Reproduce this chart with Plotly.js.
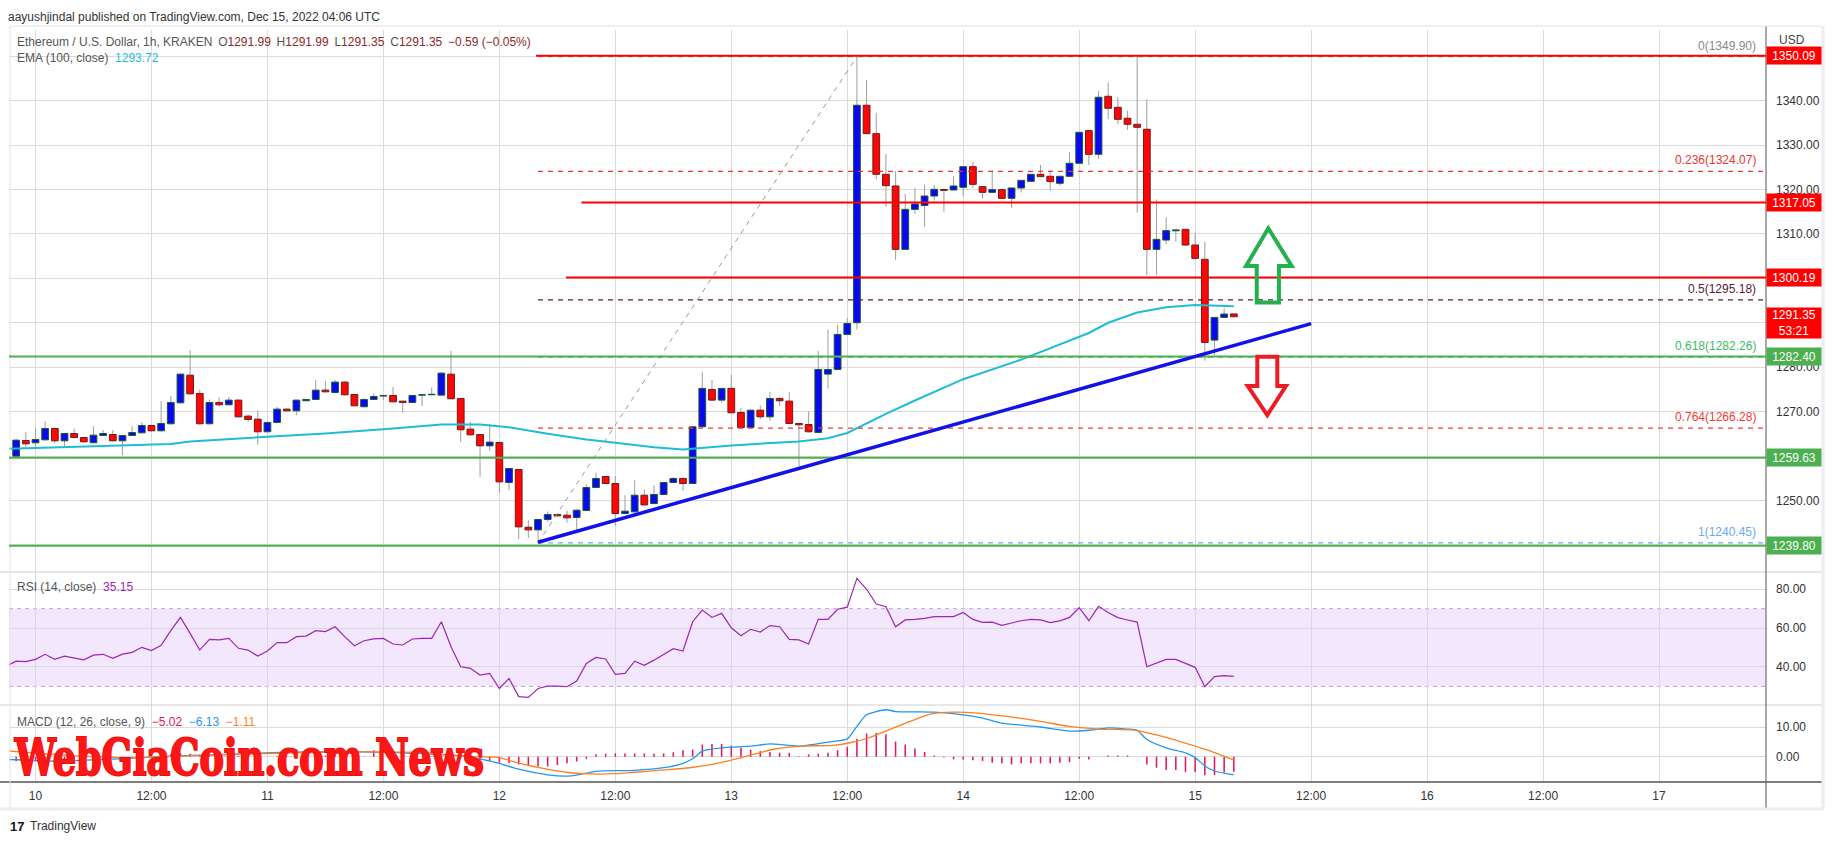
<!DOCTYPE html>
<html><head><meta charset="utf-8">
<script src="https://cdn.plot.ly/plotly-3.0.1.min.js"></script>
<style>html,body{margin:0;padding:0;background:#fff;}#chart{width:1834px;height:845px;}</style>
</head><body><div id="chart"></div>
<script>
// ---------------- DATA (ETH/USD 1h, KRAKEN) ----------------
// hour offsets are counted from Dec 10 00:00 UTC; first candle is Dec 9 22:00
const FIRST_HOUR = -2;
const OPEN = [1259.97,1263.50,1262.98,1263.65,1266.20,1263.43,1265.08,1264.18,1263.00,1264.63,1264.85,1263.43,1264.63,1265.23,1266.88,1265.68,1267.26,1271.98,1278.20,1274.09,1267.26,1272.06,1271.54,1272.59,1268.98,1268.30,1265.46,1267.56,1270.56,1270.18,1272.44,1272.74,1274.84,1274.31,1276.64,1273.86,1271.09,1272.74,1273.50,1273.64,1272.36,1272.06,1273.70,1273.79,1273.71,1278.44,1272.96,1266.06,1264.85,1262.30,1263.05,1254.04,1256.97,1243.98,1243.38,1245.71,1246.84,1246.69,1246.16,1247.74,1252.92,1255.40,1253.82,1247.06,1247.44,1251.19,1249.30,1251.34,1254.04,1254.95,1253.82,1266.58,1274.99,1272.59,1275.22,1269.81,1266.43,1270.33,1268.83,1272.96,1272.36,1267.33,1267.10,1265.31,1278.44,1279.49,1287.38,1290.00,1338.96,1332.57,1323.42,1320.79,1306.52,1315.53,1316.40,1318.53,1320.00,1319.89,1320.49,1325.14,1320.64,1319.36,1319.96,1318.01,1320.34,1321.84,1323.42,1322.97,1321.39,1322.97,1325.90,1333.25,1327.92,1340.98,1338.50,1336.03,1334.68,1333.55,1306.52,1308.62,1310.70,1311.03,1307.50,1304.27,1286.10,1291.21,1291.99];
const HIGH = [1263.73,1265.38,1266.35,1267.86,1266.40,1265.20,1266.20,1264.30,1266.70,1265.83,1265.83,1264.70,1266.73,1267.63,1267.00,1272.36,1273.49,1278.60,1283.85,1274.99,1272.74,1273.26,1273.34,1272.74,1269.40,1270.33,1267.70,1271.09,1270.70,1272.70,1272.80,1277.09,1276.87,1277.09,1276.87,1273.90,1272.90,1274.09,1273.70,1275.52,1272.40,1273.70,1273.90,1275.44,1278.82,1283.62,1273.00,1267.71,1264.90,1267.18,1263.20,1257.30,1257.00,1245.56,1245.80,1247.50,1247.00,1247.66,1248.00,1253.67,1256.30,1255.50,1255.47,1251.19,1254.57,1252.47,1253.44,1254.20,1255.30,1255.00,1266.70,1278.97,1277.09,1275.30,1278.22,1270.86,1270.40,1271.46,1274.46,1273.20,1274.46,1267.40,1270.11,1283.62,1288.50,1289.48,1291.00,1349.90,1344.66,1337.30,1328.00,1324.17,1318.98,1320.26,1321.00,1321.00,1320.20,1323.04,1325.20,1326.19,1320.70,1324.40,1320.00,1320.40,1322.10,1323.50,1325.52,1324.32,1323.00,1328.45,1333.00,1333.30,1342.18,1344.06,1340.76,1337.75,1350.09,1340.30,1317.78,1313.73,1311.00,1311.10,1310.28,1308.25,1291.30,1293.24,1291.99];
const LOW = [1259.80,1262.00,1262.08,1263.50,1262.90,1262.20,1264.00,1263.00,1262.90,1264.50,1263.30,1260.20,1264.50,1265.10,1265.50,1265.50,1267.10,1271.90,1273.90,1267.10,1267.10,1271.09,1271.40,1268.70,1267.70,1262.53,1265.30,1267.40,1270.00,1269.20,1272.40,1272.60,1274.30,1274.20,1273.60,1271.20,1271.00,1272.60,1272.70,1272.10,1269.74,1272.00,1271.24,1273.70,1273.60,1272.80,1263.20,1264.60,1255.32,1261.20,1251.72,1252.30,1241.35,1241.58,1240.45,1245.20,1246.40,1244.96,1243.30,1247.60,1252.80,1253.70,1244.36,1246.90,1247.30,1248.90,1249.20,1251.20,1254.00,1252.17,1253.70,1266.50,1272.40,1271.99,1269.60,1266.30,1266.30,1268.30,1267.93,1271.24,1267.20,1257.57,1265.30,1265.20,1275.22,1279.40,1287.20,1288.50,1332.40,1322.30,1316.13,1304.12,1306.40,1314.48,1311.63,1317.50,1315.00,1319.80,1318.40,1320.40,1318.00,1319.20,1317.90,1315.90,1319.30,1321.70,1322.80,1319.74,1320.86,1322.90,1325.80,1325.52,1326.87,1335.88,1334.68,1333.40,1314.78,1300.74,1300.74,1307.70,1308.25,1307.40,1304.30,1281.45,1282.70,1291.10,1291.35];
const CLOSE = [1263.58,1262.75,1263.73,1266.20,1263.43,1265.08,1264.18,1263.20,1264.70,1265.08,1263.43,1264.63,1265.30,1266.88,1265.68,1267.33,1272.06,1278.44,1274.00,1267.26,1272.06,1271.54,1272.59,1268.83,1268.23,1265.46,1267.56,1270.56,1270.18,1272.59,1272.74,1274.84,1274.46,1276.64,1273.79,1271.31,1272.74,1273.41,1273.64,1272.21,1272.06,1273.64,1273.79,1273.90,1278.67,1272.89,1265.91,1264.78,1262.30,1263.13,1254.19,1257.20,1244.06,1243.38,1245.71,1246.84,1246.54,1246.09,1247.81,1252.92,1254.95,1253.82,1247.06,1247.59,1251.19,1249.00,1251.34,1254.04,1254.95,1253.82,1266.58,1275.22,1272.59,1275.22,1269.74,1266.43,1270.33,1268.83,1272.96,1272.44,1267.33,1267.03,1265.46,1279.49,1279.49,1287.38,1289.85,1338.96,1332.57,1323.42,1320.86,1306.52,1315.53,1316.73,1318.53,1320.04,1319.80,1320.79,1325.14,1321.16,1319.36,1319.96,1318.01,1320.34,1322.06,1323.42,1322.89,1321.77,1322.97,1325.90,1332.87,1327.92,1340.76,1338.28,1335.80,1334.68,1334.00,1306.52,1308.77,1310.73,1310.90,1307.50,1304.50,1285.58,1291.21,1291.96,1291.35];

// EMA(100, close) read at sample hours
const EMA_H = [-3,4,9,14,16,24,30,37,42,46,49,53,57,60,64,67,72,79,82,84,88,91,96,102,107,109,111,114,117,120,124];
const EMA_V = [1261.6,1262.0,1262.3,1262.7,1263.3,1264.3,1265.1,1266.2,1267.1,1267.1,1266.5,1265.0,1263.7,1263.0,1262.0,1261.5,1262.4,1263.3,1264.0,1265.2,1269.5,1272.5,1277.3,1281.7,1286.1,1287.7,1290.0,1292.3,1293.5,1294.0,1293.72];

// RSI(14) per hour from h = -3
const RSI_FIRST_HOUR = -3;
const RSI = [40.5,43.0,42.7,43.9,46.5,43.9,45.6,44.8,43.7,46.1,46.5,44.4,46.6,47.5,50.1,48.4,51.1,58.7,65.5,57.3,48.7,54.2,53.9,54.7,49.6,48.7,45.6,48.2,52.5,52.5,55.6,55.9,58.7,58.2,60.7,55.6,50.9,53.5,54.5,54.7,51.8,51.3,54.4,54.7,54.7,63.3,50.4,40.1,39.3,35.8,36.7,28.9,34.1,24.7,24.3,28.9,30.1,30.1,29.8,32.7,41.8,44.9,44.1,36.2,36.7,43.0,40.8,43.5,46.6,49.4,48.2,63.3,69.3,65.5,67.6,60.2,56.1,59.4,58.0,61.3,60.7,54.2,53.9,51.8,64.5,64.5,69.7,70.8,85.6,80.0,72.4,71.0,60.7,64.2,64.5,65.0,65.9,65.9,65.9,68.1,64.5,63.0,63.1,61.4,62.8,63.8,64.5,64.2,62.8,63.7,65.5,70.5,63.8,71.2,68.0,65.4,64.2,63.1,40.1,42.2,43.9,43.9,41.8,39.8,29.8,35.0,35.5,35.15];

// MACD(12,26,9): line and signal read at sample hours, histogram per candle
const MACD_H = [-3,2,8,14,20,26,32,38,44,46,48,50,53,55,56,58,62,65,67,68,69,71,74,76,79,82,84,85,86,88,89,91,93,96,98,100,104,107,109,111,113,114,115,117,119,120,121,122,124];
const MACD_V = [-0.9,-1.45,-0.8,0.2,0.8,1.5,1.7,1.3,0.2,-0.7,-2.2,-4.2,-6.1,-6.5,-6.2,-4.9,-4.6,-3.7,-2.2,-0.7,1.9,3.0,3.55,4.3,3.6,4.9,6.0,10.2,14.1,15.8,15.2,15.1,15.0,14.1,13.0,11.3,10.0,8.6,8.9,9.7,9.3,8.9,5.8,3.0,1.3,-0.3,-3.1,-4.8,-6.13];
const SIGNAL_H = [-3,4,10,16,22,28,34,40,45.6,48,49.8,52.8,55.1,57.5,60,61.7,64.7,67.7,70.6,73.6,76.5,79.5,82.5,84.3,86.2,89.2,92.7,95.1,97.5,101.1,104,107,110,113.9,115.9,118.9,121.3,124];
const SIGNAL_V = [2.0,0.3,-0.3,0.3,0.9,1.4,1.6,1.4,0.0,-0.3,-2.0,-4.1,-5.3,-5.8,-5.7,-5.3,-4.5,-3.7,-2.2,0.2,2.6,3.6,3.8,4.7,6.3,10.2,14.4,15.0,14.7,13.3,11.9,10.2,9.3,8.9,7.4,4.7,2.2,-1.11];
const HIST = [-1.5,-1.4,-1.3,-1.2,-1.0,-0.9,-0.8,-0.7,-0.6,-0.5,-0.4,-0.3,-0.1,0.1,0.2,0.4,0.8,1.2,1.0,0.6,0.6,0.5,0.5,0.3,0.2,0.0,0.0,0.2,0.2,0.3,0.3,0.4,0.4,0.5,0.3,0.1,0.1,2.2,0.0,-0.1,-0.2,-0.1,-0.1,-0.1,0.4,0.1,-0.6,-0.8,-1.1,-1.4,-2.0,-2.2,-2.6,-2.9,-3.3,-3.3,-2.8,-2.2,-1.6,-0.7,0.8,1.0,1.1,1.1,1.1,1.1,1.0,1.1,1.5,2.2,2.4,4.1,4.3,4.3,3.7,3.0,2.4,1.9,1.6,1.3,1.3,0.2,0.8,1.0,1.3,2.2,3.3,6.0,7.8,8.0,7.6,5.1,4.1,2.8,1.6,0.4,-0.3,-0.9,-0.9,-1.2,-1.4,-2.0,-2.2,-2.6,-2.2,-2.2,-2.2,-2.2,-2.0,-1.8,-0.7,-0.9,0.0,0.4,0.4,0.4,0.0,-2.6,-3.7,-4.5,-4.5,-5.1,-5.1,-6.2,-6.2,-5.3,-5.02];

// Drawn levels (price tags on the right axis)
const RED_LEVELS = [1350.09, 1317.05, 1300.19];
const RED_LEVEL_START_H = [51.8, 56.5, 54.9];
const GREEN_LEVELS = [1282.40, 1259.63, 1239.80];
const LAST_PRICE = 1291.35;
const LAST_COUNTDOWN = '53:21';

// Price axis labels (those hidden behind price tags are blank)
const PRICE_TICKS = [1240,1250,1260,1270,1280,1290,1300,1310,1320,1330,1340,1350];
const PRICE_TICK_TEXT = ['','1250.00','','1270.00','1280.00','','','1310.00','1320.00','1330.00','1340.00',''];

// Fibonacci retracement
const FIB_RATIOS = [0, 0.236, 0.5, 0.618, 0.764, 1];
const FIB_RATIO_TEXT = ['0', '0.236', '0.5', '0.618', '0.764', '1'];
const FIB_LOW = 1240.45, FIB_HIGH = 1349.90;
const FIB_LOW_H = 52, FIB_HIGH_H = 85;

// Rising trend line
const TREND_H = [52, 132];
const TREND_P = [1240.6, 1289.8];

// Arrows (hours, price)
const UP_ARROW_H = [127.57,129.99,128.67,128.67,126.37,126.37,125.26];
const UP_ARROW_P = [1311.26,1302.77,1302.77,1294.59,1294.59,1302.77,1302.77];
const DOWN_ARROW_H = [126.43,128.50,128.50,129.39,127.46,125.44,126.43];
const DOWN_ARROW_P = [1282.34,1282.34,1275.74,1275.74,1269.21,1275.74,1275.74];

// X tick labels every 12 h
const X_TICK_H = [0,12,24,36,48,60,72,84,96,108,120,132,144,156,168];
const X_TICK_TEXT = ['10','12:00','11','12:00','12','12:00','13','12:00','14','12:00','15','12:00','16','12:00','17'];

// ---------------- STYLE / LAYOUT ----------------
const FONT = '"Liberation Sans", Arial, sans-serif';
const L = 9, R = 68, T = 30, B = 63, W = 1834, H = 845;
const PW = W - L - R, PH = H - T - B;
const PX = x => (x - L) / PW;
const PY = y => (H - B - y) / PH;
const GRID = '#dadada';

const hours = OPEN.map((_, i) => FIRST_HOUR + i);
const isUp = OPEN.map((o, i) => CLOSE[i] >= o);

const wickTrace = {
  type: 'bar', x: hours, base: LOW, y: HIGH.map((h, i) => h - LOW[i]),
  width: 0.11, marker: {color: '#a3a3a3', line: {width: 0}}, xaxis: 'x', yaxis: 'y', hoverinfo: 'skip'
};
const bodyTrace = {
  type: 'bar', x: hours, base: OPEN.map((o, i) => Math.min(o, CLOSE[i])),
  y: OPEN.map((o, i) => Math.max(Math.abs(CLOSE[i] - o), 0.12)),
  width: 0.7,
  marker: {color: isUp.map(u => u ? '#0808f2' : '#ff0505'),
           line: {color: isUp.map(u => u ? '#1d5a2e' : '#6e1c1c'), width: 1}},
  xaxis: 'x', yaxis: 'y', hoverinfo: 'skip'
};
const emaTrace = {type: 'scatter', mode: 'lines', x: EMA_H, y: EMA_V, line: {color: '#1fbcd6', width: 2}, xaxis: 'x', yaxis: 'y'};
const rsiTrace = {type: 'scatter', mode: 'lines', x: RSI.map((_, i) => RSI_FIRST_HOUR + i), y: RSI, line: {color: '#9c27b0', width: 1.2}, xaxis: 'x', yaxis: 'y2'};
const histTrace = {type: 'bar', x: hours, y: HIST, width: 0.16, marker: {color: '#e3175c', line: {width: 0}}, xaxis: 'x', yaxis: 'y3'};
const macdTrace = {type: 'scatter', mode: 'lines', x: MACD_H, y: MACD_V, line: {color: '#2196f3', width: 1.3, shape: 'spline', smoothing: 0.6}, xaxis: 'x', yaxis: 'y3'};
const signalTrace = {type: 'scatter', mode: 'lines', x: SIGNAL_H, y: SIGNAL_V, line: {color: '#ff7f1e', width: 1.3, shape: 'spline', smoothing: 0.6}, xaxis: 'x', yaxis: 'y3'};

const shapes = [];
// RSI band
shapes.push({type: 'rect', xref: 'paper', x0: 0, x1: 1, yref: 'y2', y0: 30, y1: 70, fillcolor: '#f3e7fd', line: {width: 0}, layer: 'below'});
[30, 70].forEach(v => shapes.push({type: 'line', xref: 'paper', x0: 0, x1: 1, yref: 'y2', y0: v, y1: v, line: {color: '#bba6cc', width: 1, dash: '4px,4px'}, layer: 'between'}));
// frame, pane separators, axes lines
shapes.push({type: 'line', xref: 'paper', yref: 'paper', x0: PX(0), x1: PX(1822), y0: PY(572), y1: PY(572), line: {color: '#cfcfcf', width: 1}});
shapes.push({type: 'line', xref: 'paper', yref: 'paper', x0: PX(0), x1: PX(1822), y0: PY(705), y1: PY(705), line: {color: '#cfcfcf', width: 1}});
shapes.push({type: 'line', xref: 'paper', yref: 'paper', x0: PX(0), x1: PX(1822), y0: 0, y1: 0, line: {color: '#555', width: 1.5}});
shapes.push({type: 'line', xref: 'paper', yref: 'paper', x0: 1, x1: 1, y0: PY(809), y1: PY(26), line: {color: '#555', width: 1}});
shapes.push({type: 'line', xref: 'paper', yref: 'paper', x0: PX(10), x1: PX(1822), y0: PY(26), y1: PY(26), line: {color: '#e3e3e3', width: 1}});
shapes.push({type: 'line', xref: 'paper', yref: 'paper', x0: PX(10), x1: PX(10), y0: PY(809), y1: PY(26), line: {color: '#e3e3e3', width: 1}});
shapes.push({type: 'line', xref: 'paper', yref: 'paper', x0: PX(1823), x1: PX(1823), y0: PY(810), y1: PY(26), line: {color: '#ececf2', width: 3}});
shapes.push({type: 'line', xref: 'paper', yref: 'paper', x0: PX(0), x1: PX(1824), y0: PY(809), y1: PY(809), line: {color: '#ececf2', width: 3}});

// Fibonacci levels
const FIB_COLORS = ['#8a8a8a', '#e53935', '#5a1a35', '#3dbb6b', '#f23a3a', '#6aa9ee'];
const fibLevels = FIB_RATIOS.map(r => FIB_HIGH - r * (FIB_HIGH - FIB_LOW));
fibLevels.forEach((v, i) => shapes.push({type: 'line', xref: 'x', yref: 'y', x0: FIB_LOW_H, x1: 179.07, y0: v, y1: v, line: {color: FIB_COLORS[i], width: 1.2, dash: '5px,5px'}}));
shapes.push({type: 'line', xref: 'x', yref: 'y', x0: FIB_LOW_H, x1: FIB_HIGH_H, y0: FIB_LOW, y1: FIB_HIGH, line: {color: '#9a9a9a', width: 1, dash: '5px,5px'}});

// horizontal support/resistance lines
RED_LEVELS.forEach((v, i) => shapes.push({type: 'line', xref: 'x', yref: 'y', x0: RED_LEVEL_START_H[i], x1: 179.07, y0: v, y1: v, line: {color: '#ff0000', width: 2}}));
GREEN_LEVELS.forEach(v => shapes.push({type: 'line', xref: 'paper', yref: 'y', x0: 0, x1: 1, y0: v, y1: v, line: {color: '#4caf50', width: 2}}));

// trend line
shapes.push({type: 'line', xref: 'x', yref: 'y', x0: TREND_H[0], x1: TREND_H[1], y0: TREND_P[0], y1: TREND_P[1], line: {color: '#1212e8', width: 3.5}});

// arrows
const pathOf = (hs, ps) => 'M' + hs.map((h, i) => h + ',' + ps[i]).join(' L') + ' Z';
shapes.push({type: 'path', xref: 'x', yref: 'y', path: pathOf(UP_ARROW_H, UP_ARROW_P), line: {color: '#22b14c', width: 4}, fillcolor: 'rgba(0,0,0,0)'});
shapes.push({type: 'path', xref: 'x', yref: 'y', path: pathOf(DOWN_ARROW_H, DOWN_ARROW_P), line: {color: '#ed1c24', width: 4}, fillcolor: 'rgba(0,0,0,0)'});

// ---------------- annotations ----------------
const ann = [];
const txt = (x, y, text, size, color, extra) => Object.assign({xref: 'paper', yref: 'paper', x: PX(x), y: PY(y), xanchor: 'left', yanchor: 'middle', text: text, showarrow: false, font: {family: FONT, size: size, color: color}}, extra || {});
ann.push(txt(6, 17, 'aayushjindal published on TradingView.com, Dec 15, 2022 04:06 UTC', 12, '#333'));
const dk = c => '<span style="color:#8b2a2a">' + c + '</span>';
const SP = ' \u2009';
ann.push(txt(15, 42, 'Ethereum / U.S. Dollar, 1h, KRAKEN' + SP + 'O' + dk(OPEN[OPEN.length - 1].toFixed(2)) + SP + 'H' + dk(HIGH[HIGH.length - 1].toFixed(2)) + SP + 'L' + dk(LOW[LOW.length - 1].toFixed(2)) + SP + 'C' + dk(CLOSE[CLOSE.length - 1].toFixed(2)) + SP + dk('\u22120.59 (\u22120.05%)'), 12, '#555'));
ann.push(txt(15, 58, 'EMA (100, close)  <span style="color:#1fbcd6">' + EMA_V[EMA_V.length - 1].toFixed(2) + '</span>', 12, '#555'));
ann.push(txt(15, 587, 'RSI (14, close)  <span style="color:#9c27b0">' + RSI[RSI.length - 1].toFixed(2) + '</span>', 12, '#555'));
const neg = v => '\u2212' + Math.abs(v).toFixed(2);
ann.push(txt(15, 722, 'MACD (12, 26, close, 9)  <span style="color:#e3175c">' + neg(HIST[HIST.length - 1]) + '</span>  <span style="color:#2196f3">' + neg(MACD_V[MACD_V.length - 1]) + '</span>  <span style="color:#ff7f1e">' + neg(SIGNAL_V[SIGNAL_V.length - 1]) + '</span>', 12, '#555'));
ann.push(txt(1777, 40, 'USD', 12, '#444'));

// fib labels
fibLevels.forEach((v, i) => ann.push({xref: 'paper', yref: 'y', x: PX(1758), y: v, xanchor: 'right', yanchor: 'middle', yshift: 11, text: FIB_RATIO_TEXT[i] + '(' + v.toFixed(2) + ')', showarrow: false, font: {family: FONT, size: 12, color: FIB_COLORS[i]}}));

// price tags
const tag = (v, color, text, h) => ({xref: 'paper', yref: 'y', x: 1, y: v, xanchor: 'left', yanchor: 'middle', text: text, showarrow: false, bgcolor: color, width: 50, height: h, borderpad: 2, align: 'center', font: {family: FONT, size: 12, color: '#fff'}});
RED_LEVELS.forEach(v => ann.push(tag(v, '#ff0000', v.toFixed(2), 13)));
GREEN_LEVELS.forEach(v => ann.push(tag(v, '#4caf50', v.toFixed(2), 13)));
ann.push(Object.assign(tag(LAST_PRICE, '#ff0000', LAST_PRICE.toFixed(2) + '<br>' + LAST_COUNTDOWN, 26), {yshift: -6}));

// watermark
const WATERMARK = 'WebGiaCoin.com News';
ann.push({xref: 'paper', yref: 'paper', x: PX(12), y: PY(757), xanchor: 'left', yanchor: 'middle', text: '<b>' + WATERMARK + '</b>', showarrow: false, font: {family: '"DejaVu Serif Condensed", "DejaVu Serif", serif', size: 50, color: '#ff1717'}});
// footer logo
ann.push(txt(8, 826, '<b>17</b>', 13, '#131722'));
ann.push(txt(28, 826, 'TradingView', 12, '#333'));

const axFont = {family: FONT, size: 12, color: '#333'};
const layout = {
  width: W, height: H, margin: {l: L, r: R, t: T, b: B},
  paper_bgcolor: '#fff', plot_bgcolor: '#fff', showlegend: false, barmode: 'overlay', hovermode: false,
  xaxis: {range: [-2.742, 179.07], tickvals: X_TICK_H, ticktext: X_TICK_TEXT, showgrid: true, gridcolor: GRID, gridwidth: 1, zeroline: false, showline: false, ticks: '', anchor: 'y3', tickfont: axFont, ticklabelstandoff: 5, automargin: false, fixedrange: true},
  yaxis: {domain: [PY(572), 1], range: [1233.9, 1355.9], side: 'right', anchor: 'x', tickvals: PRICE_TICKS, ticktext: PRICE_TICK_TEXT, showgrid: true, gridcolor: GRID, zeroline: false, showline: false, ticks: '', tickfont: axFont, ticklabelstandoff: 9, automargin: false},
  yaxis2: {domain: [PY(705), PY(572)], range: [20.4, 88.9], side: 'right', anchor: 'x', tickvals: [40, 60, 80], tickformat: '.2f', showgrid: true, gridcolor: GRID, zeroline: false, showline: false, ticks: '', tickfont: axFont, ticklabelstandoff: 9, automargin: false},
  yaxis3: {domain: [0, PY(705)], range: [-8.5, 17.4], side: 'right', anchor: 'x', tickvals: [0, 10], tickformat: '.2f', showgrid: true, gridcolor: GRID, zeroline: false, showline: false, ticks: '', tickfont: axFont, ticklabelstandoff: 9, automargin: false},
  shapes: shapes, annotations: ann
};
Plotly.newPlot('chart', [wickTrace, bodyTrace, emaTrace, rsiTrace, histTrace, macdTrace, signalTrace], layout, {staticPlot: true, displayModeBar: false}).then(() => {
  // squeeze the watermark horizontally to the width it has in the reference (~470 px) and embolden it
  document.querySelectorAll('.annotation-text').forEach(el => {
    if (el.textContent.indexOf(WATERMARK) === -1) return;
    const bb = el.getBBox();
    const s = 470 / bb.width;
    const prev = el.getAttribute('transform') || '';
    el.setAttribute('transform', prev + ' translate(' + bb.x + ',0) scale(' + s + ',1) translate(' + (-bb.x) + ',0)');
    el.style.stroke = '#e81010';
    el.style.strokeWidth = '2px';
    el.style.paintOrder = 'stroke';
  });
});
</script></body></html>
